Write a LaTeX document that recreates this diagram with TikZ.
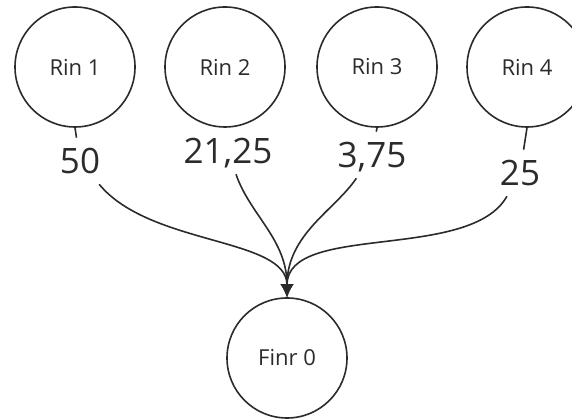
\documentclass[tikz,border=0pt]{standalone}
\usepackage{fontspec}
\setmainfont{Open Sans}
\usetikzlibrary{arrows.meta}
\definecolor{ink}{HTML}{2B2B2B}
\begin{document}
\begin{tikzpicture}[x=1pt,y=1pt,
   line width=1.6pt,
   every node/.style={text=ink},
   rin/.style={draw=ink,circle,minimum size=120pt,inner sep=0pt,
               font=\fontsize{22}{26}\selectfont},
   val/.style={inner sep=10pt,text height=25pt,text depth=0pt,
               font=\fontsize{35}{42}\selectfont},
   flow/.style={draw=ink,-{Latex[length=13pt,width=13pt]}}]

\useasboundingbox (0,0) rectangle (572,419);

\node[rin] (r1) at (75,352)  {Rin 1};
\node[rin] (r2) at (225,352) {Rin 2};
\node[rin] (r3) at (377,352) {Rin 3};
\node[rin] (r4) at (527,352) {Rin 4};

\node[rin] (f0) at (287,61) {Finr 0};

\node[val] (v1) at (80,258)  {50};
\node[val] (v2) at (228,268) {21,25};
\node[val] (v3) at (372,264) {3,75};
\node[val] (v4) at (520,246) {25};

\draw[flow] (r1.south) -- (v1) .. controls +(70,-85) and +(0,60) .. (f0.north);
\draw[flow] (r2.south) -- (v2) .. controls +(22,-64) and +(0,58) .. (f0.north);
\draw[flow] (r3.south) -- (v3) .. controls +(-37,-55) and +(0,63) .. (f0.north);
\draw[flow] (r4.south) -- (v4) .. controls +(-50,-89) and +(0,75) .. (f0.north);

\end{tikzpicture}
\end{document}
